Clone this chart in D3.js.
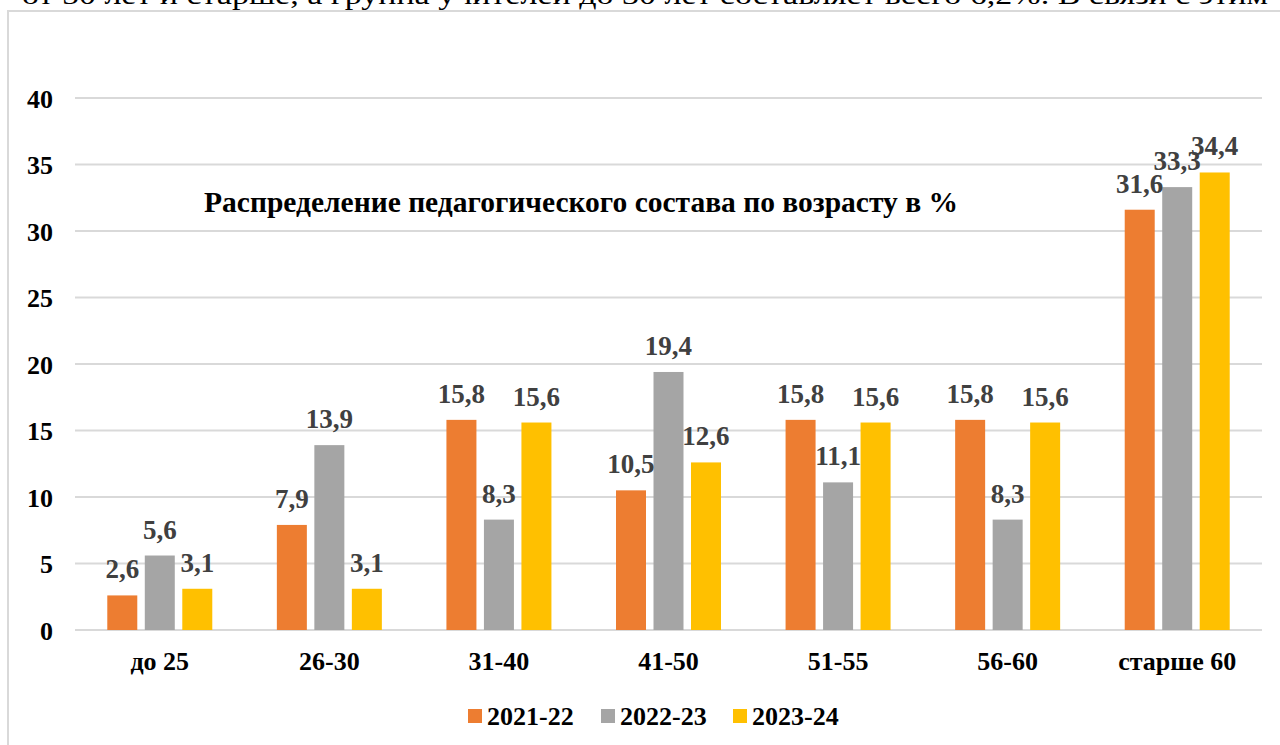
<!DOCTYPE html>
<html>
<head>
<meta charset="utf-8">
<script src="https://cdn.jsdelivr.net/npm/d3@7"></script>
<style>
  body { margin: 0; background: #fff; }
  svg { display: block; }
  text { font-family: "Liberation Serif", "Times New Roman", serif; }
</style>
</head>
<body>
<svg id="chart" width="1280" height="745"></svg>
<script>
// данные диаграммы
const categories = ["до 25", "26-30", "31-40", "41-50", "51-55", "56-60", "старше 60"];
const seriesNames = ["2021-22", "2022-23", "2023-24"];
const values2021 = [2.6, 7.9, 15.8, 10.5, 15.8, 15.8, 31.6];
const values2022 = [5.6, 13.9, 8.3, 19.4, 11.1, 8.3, 33.3];
const values2023 = [3.1, 3.1, 15.6, 12.6, 15.6, 15.6, 34.4];
const yTicks = [0, 5, 10, 15, 20, 25, 30, 35, 40];
const colors = ["#ED7D31", "#A5A5A5", "#FFC000"];

const allValues = [values2021, values2022, values2023];
const fmt = v => String(v).replace(".", ",");
const FONT = '"Liberation Serif", "Times New Roman", serif';

const svg = d3.select("#chart");

// обрезанная строка текста документа сверху
svg.append("text")
  .attr("x", 22).attr("y", 4)
  .attr("textLength", 1246)
  .attr("lengthAdjust", "spacingAndGlyphs")
  .style("font-family", FONT)
  .style("font-size", "28px")
  .text("от 50 лет и старше, а группа учителей до 30 лет составляет всего 6,2%. В связи с этим");

// рамка диаграммы
svg.append("rect")
  .attr("x", 8).attr("y", 11)
  .attr("width", 1290).attr("height", 760)
  .attr("fill", "none")
  .attr("stroke", "#d9d9d9")
  .attr("stroke-width", 2);

const plotLeft = 75, plotRight = 1262, plotTop = 98, plotBottom = 630;

const x0 = d3.scaleBand().domain(categories).range([plotLeft, plotRight]).padding(0);
const groupW = 105;
const x1 = d3.scaleBand().domain(seriesNames)
  .range([(x0.bandwidth() - groupW) / 2, (x0.bandwidth() + groupW) / 2])
  .paddingInner(0.2);
const y = d3.scaleLinear().domain([0, 40]).range([plotBottom, plotTop]);

// сетка
svg.append("g")
  .selectAll("line")
  .data(yTicks)
  .join("line")
  .attr("x1", plotLeft).attr("x2", plotRight)
  .attr("y1", d => y(d)).attr("y2", d => y(d))
  .attr("stroke", "#d9d9d9")
  .attr("stroke-width", 2);

// подписи оси Y
const yAxis = svg.append("g")
  .attr("transform", `translate(${plotLeft - 22},0)`)
  .call(d3.axisLeft(y).tickValues(yTicks).tickSize(0).tickPadding(0));
yAxis.attr("font-family", null);
yAxis.select(".domain").remove();
yAxis.selectAll("text")
  .attr("dy", "0.35em")
  .style("font-family", FONT)
  .style("font-size", "26px")
  .style("font-weight", "bold")
  .attr("fill", "#000");

// подписи категорий
const xAxis = svg.append("g")
  .attr("transform", `translate(0,${plotBottom})`)
  .call(d3.axisBottom(x0).tickSize(0).tickPadding(0));
xAxis.attr("font-family", null);
xAxis.select(".domain").remove();
xAxis.selectAll("text")
  .attr("y", 40)
  .attr("dy", 0)
  .style("font-family", FONT)
  .style("font-size", "26px")
  .style("font-weight", "bold")
  .attr("fill", "#000");

// столбцы
const groups = svg.append("g")
  .selectAll("g")
  .data(categories)
  .join("g")
  .attr("transform", d => `translate(${x0(d)},0)`);

groups.selectAll("rect")
  .data((c, i) => seriesNames.map((s, k) => ({ s, k, v: allValues[k][i] })))
  .join("rect")
  .attr("x", d => x1(d.s))
  .attr("width", x1.bandwidth())
  .attr("y", d => y(d.v))
  .attr("height", d => y(0) - y(d.v))
  .attr("fill", d => colors[d.k]);

groups.selectAll("text.lbl")
  .data((c, i) => seriesNames.map((s, k) => ({ s, k, v: allValues[k][i] })))
  .join("text")
  .attr("class", "lbl")
  .attr("x", d => x1(d.s) + x1.bandwidth() / 2)
  .attr("y", d => y(d.v) - 17)
  .attr("text-anchor", "middle")
  .style("font-family", FONT)
  .style("font-size", "27px")
  .style("font-weight", "bold")
  .attr("fill", "#404040")
  .text(d => fmt(d.v));

// заголовок
svg.append("text")
  .attr("x", 581).attr("y", 212)
  .attr("text-anchor", "middle")
  .style("font-family", FONT)
  .style("font-size", "29.5px")
  .style("font-weight", "bold")
  .text("Распределение педагогического состава по возрасту в %");

// легенда
const legendX = [468, 601, 733];
const legend = svg.append("g")
  .selectAll("g")
  .data(seriesNames)
  .join("g")
  .attr("transform", (d, i) => `translate(${legendX[i]},709)`);
legend.append("rect")
  .attr("width", 14).attr("height", 14)
  .attr("fill", (d, i) => colors[i]);
legend.append("text")
  .attr("x", 19).attr("y", 16)
  .style("font-family", FONT)
  .style("font-size", "26px")
  .style("font-weight", "bold")
  .text(d => d);
</script>
</body>
</html>
